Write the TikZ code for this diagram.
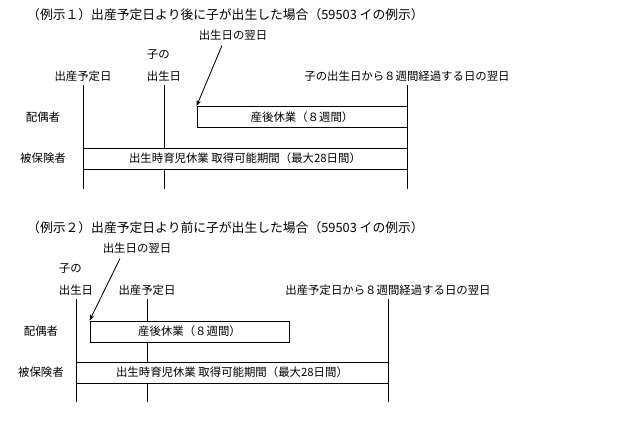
\documentclass[tikz,border=0pt]{standalone}
\usepackage{fontspec}
\setmainfont{Noto Sans CJK JP}
\usetikzlibrary{arrows.meta}

\tikzset{
  etiquette/.style={font=\fontsize{11.4}{13}\selectfont, inner sep=0pt},
  titre/.style={font=\fontsize{12.8}{14}\selectfont, inner sep=0pt, anchor=west},
  trait/.style={line width=0.85pt},
  boite/.style={trait, draw, fill=white, inner sep=0pt, minimum height=21,
    font=\fontsize{11.4}{13}\selectfont},
  fleche/.style={trait, -{Stealth[length=6pt, width=4.5pt]}},
}

\begin{document}
\begin{tikzpicture}[x=1pt, y=-1pt]
\useasboundingbox (0,0) rectangle (640,425);

% Exemple 1
\node[titre] (titre1) at (27,15) {（例示１）出産予定日より後に子が出生した場合（59503 イの例示）};

\node[etiquette] (lendemain1) at (233,35) {出生日の翌日};
\node[etiquette] (prevue1) at (83,76) {出産予定日};
\node[etiquette] (naissance1) at (164,76) {出生日};
\node[etiquette, anchor=west] (enfant1) at ([yshift=21pt]naissance1.west) {子の};
\node[etiquette] (fin1) at (407,76) {子の出生日から８週間経過する日の翌日};
\node[etiquette] (conjoint1) at (43,117) {配偶者};
\node[etiquette] (assure1) at (43,158) {被保険者};

% Traits verticaux
\foreach \n in {prevue1, naissance1, fin1}
  \draw[trait] (\n.south) ++(0,4) -- ++(0,104);

% Périodes
\node[boite, minimum width=210] (conge1) at (302,117) {産後休業（８週間）};
\node[boite, minimum width=324] (periode1) at (245,158.5) {出生時育児休業 取得可能期間（最大28日間）};

\draw[fleche] ([xshift=-11pt]lendemain1.south) ++(0,5) -- (conge1.north west);

% Exemple 2
\node[titre] (titre2) at (27,228) {（例示２）出産予定日より前に子が出生した場合（59503 イの例示）};

\node[etiquette] (lendemain2) at (137,248) {出生日の翌日};
\node[etiquette] (naissance2) at (76,290) {出生日};
\node[etiquette, anchor=west] (enfant2) at ([yshift=21pt]naissance2.west) {子の};
\node[etiquette] (prevue2) at (147,290) {出産予定日};
\node[etiquette] (fin2) at (388,290) {出産予定日から８週間経過する日の翌日};
\node[etiquette] (conjoint2) at (41,331) {配偶者};
\node[etiquette] (assure2) at (41,372) {被保険者};

% Traits verticaux
\foreach \n in {naissance2, prevue2, fin2}
  \draw[trait] (\n.south) ++(0,4) -- ++(0,103);

% Périodes
\node[boite, minimum width=199] (conge2) at (189.5,331.5) {産後休業（８週間）};
\node[boite, minimum width=312] (periode2) at (232,372.5) {出生時育児休業 取得可能期間（最大28日間）};

\draw[fleche] ([xshift=-17pt]lendemain2.south) ++(0,5) -- (conge2.north west);

\end{tikzpicture}
\end{document}
